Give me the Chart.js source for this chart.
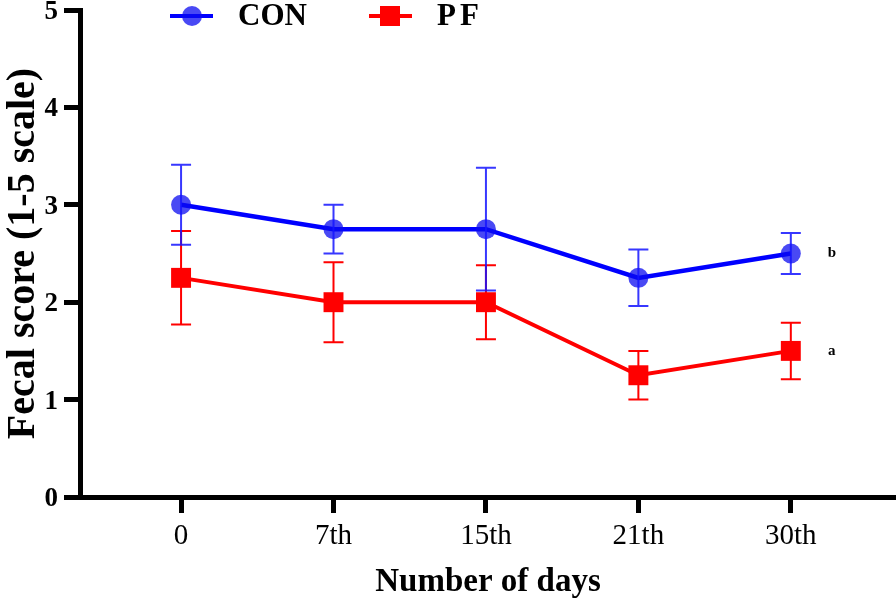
<!DOCTYPE html>
<html>
<head>
<meta charset="utf-8">
<script src="https://cdn.jsdelivr.net/npm/chart.js@4"></script>
<style>
  html, body { margin: 0; padding: 0; background: #fff; }
  canvas { display: block; }
</style>
</head>
<body>
<canvas id="fecal-chart" width="896" height="603"></canvas>
<script>
'use strict';

// days of sampling
var days = ['0', '7th', '15th', '21th', '30th'];

// CON group: mean and error (+/-)
var conMean = [3.0, 2.75, 2.75, 2.25, 2.5];
var conErr = [0.41, 0.25, 0.63, 0.29, 0.21];

// PF group: mean and error (+/-)
var pfMean = [2.25, 2.0, 2.0, 1.25, 1.5];
var pfErr = [0.48, 0.41, 0.38, 0.25, 0.29];

// significance letters next to the last point (CON, PF)
var sigLetters = ['b', 'a'];

var yTicks = [0, 1, 2, 3, 4, 5];

var BLUE = '#0000ff';
var BLUE_FILL = 'rgba(10,10,240,0.74)';
var RED = '#ff0000';
var FONT = 'Liberation Serif';

function toPoints(values) {
    return values.map(function(v, i) { return { x: i, y: v }; });
}

// error bars, drawn over the lines
var errorBars = {
    id: 'errorBars',
    afterDatasetsDraw: function(chart) {
        var ctx = chart.ctx;
        var xs = chart.scales.x, ys = chart.scales.y;
        var groups = [
            { mean: pfMean, err: pfErr, color: RED },
            { mean: conMean, err: conErr, color: 'rgba(20,20,255,0.85)' }
        ];
        ctx.save();
        groups.forEach(function(g) {
            ctx.strokeStyle = g.color;
            ctx.lineWidth = 2;
            g.mean.forEach(function(m, i) {
                var x = xs.getPixelForValue(i);
                var yt = ys.getPixelForValue(m + g.err[i]);
                var yb = ys.getPixelForValue(m - g.err[i]);
                ctx.beginPath();
                ctx.moveTo(x, yt); ctx.lineTo(x, yb);
                ctx.moveTo(x - 10, yt); ctx.lineTo(x + 10, yt);
                ctx.moveTo(x - 10, yb); ctx.lineTo(x + 10, yb);
                ctx.stroke();
            });
        });

        // letters
        ctx.fillStyle = '#000';
        ctx.font = 'bold 15px "' + FONT + '"';
        ctx.textAlign = 'center';
        ctx.textBaseline = 'middle';
        var last = days.length - 1;
        var lx = xs.getPixelForValue(last) + 41;
        ctx.fillText(sigLetters[0], lx, ys.getPixelForValue(conMean[last]));
        ctx.fillText(sigLetters[1], lx, ys.getPixelForValue(pfMean[last]));
        ctx.restore();
    }
};

// legend at the top: line + marker + bold name
var topLegend = {
    id: 'topLegend',
    afterDraw: function(chart) {
        var ctx = chart.ctx;
        var y = 16;
        ctx.save();
        // CON
        ctx.strokeStyle = BLUE;
        ctx.lineWidth = 4;
        ctx.beginPath(); ctx.moveTo(170, y); ctx.lineTo(213, y); ctx.stroke();
        ctx.fillStyle = BLUE_FILL;
        ctx.beginPath(); ctx.arc(192, y, 10, 0, Math.PI * 2); ctx.fill();
        // PF
        ctx.strokeStyle = RED;
        ctx.beginPath(); ctx.moveTo(369, y); ctx.lineTo(412, y); ctx.stroke();
        ctx.fillStyle = RED;
        ctx.fillRect(380, y - 10, 20, 20);

        ctx.fillStyle = '#000';
        ctx.font = 'bold 31px "' + FONT + '"';
        ctx.textAlign = 'left';
        ctx.textBaseline = 'middle';
        ctx.fillText('CON', 238, y + 1);
        ctx.letterSpacing = '4px';
        ctx.fillText('PF', 437, y + 1);
        ctx.restore();
    }
};

var ctx = document.getElementById('fecal-chart').getContext('2d');

new Chart(ctx, {
    type: 'line',
    data: {
        datasets: [{
            label: 'CON',
            data: toPoints(conMean),
            borderColor: BLUE,
            borderWidth: 4.5,
            pointStyle: 'circle',
            pointRadius: 10,
            pointBackgroundColor: BLUE_FILL,
            pointBorderWidth: 0,
            tension: 0
        }, {
            label: 'PF',
            data: toPoints(pfMean),
            borderColor: RED,
            borderWidth: 4,
            pointStyle: 'rect',
            pointRadius: 14.1,
            pointBackgroundColor: RED,
            pointBorderWidth: 0,
            tension: 0
        }]
    },
    options: {
        responsive: false,
        animation: false,
        layout: { autoPadding: false, padding: { top: 10, right: 0, left: 0, bottom: 0 } },
        plugins: {
            legend: { display: false },
            tooltip: { enabled: false }
        },
        scales: {
            x: {
                type: 'linear',
                min: -0.663,
                max: 4.69,
                afterBuildTicks: function(scale) {
                    scale.ticks = days.map(function(d, i) { return { value: i }; });
                },
                afterFit: function(scale) {
                    scale.height = 106;
                    scale.paddingLeft = 0;
                    scale.paddingRight = 0;
                },
                border: { display: true, width: 5, color: '#000' },
                grid: { drawOnChartArea: false, drawTicks: true, tickLength: 16, tickWidth: 5, tickColor: '#000' },
                ticks: {
                    color: '#000',
                    padding: 6,
                    maxRotation: 0,
                    font: { family: FONT, size: 29 },
                    callback: function(v) { return days[v]; }
                },
                title: {
                    display: true,
                    text: 'Number of days',
                    color: '#000',
                    padding: { top: 0, bottom: 1 },
                    font: { family: FONT, size: 33, weight: 'bold' }
                }
            },
            y: {
                min: 0,
                max: 5,
                afterBuildTicks: function(scale) {
                    scale.ticks = yTicks.map(function(v) { return { value: v }; });
                },
                afterFit: function(scale) {
                    scale.width = 80;
                    scale.paddingTop = 0;
                    scale.paddingBottom = 0;
                },
                border: { display: true, width: 5, color: '#000' },
                grid: { drawOnChartArea: false, drawTicks: true, tickLength: 16, tickWidth: 5, tickColor: '#000' },
                ticks: {
                    color: '#000',
                    padding: 6,
                    labelOffset: 2,
                    font: { family: FONT, size: 27, weight: 'bold' }
                },
                title: {
                    display: true,
                    text: 'Fecal score (1-5 scale)',
                    color: '#000',
                    padding: 0,
                    font: { family: FONT, size: 40, weight: 'bold' }
                }
            }
        }
    },
    plugins: [errorBars, topLegend]
});
</script>
</body>
</html>
